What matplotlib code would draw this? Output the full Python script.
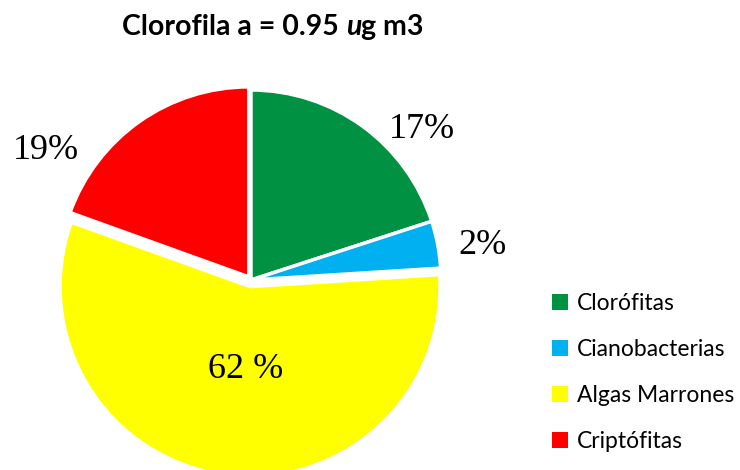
import matplotlib
matplotlib.use("Agg")
import matplotlib.pyplot as plt
from matplotlib.patches import Patch

# data
groups = ["Clorófitas", "Cianobacterias", "Algas Marrones", "Criptófitas"]
shares = [20.0, 4.0, 56.5, 19.5]
share_labels = ["17%", "2%", "62 %", "19%"]
colors = ["#009242", "#00B0F0", "#FFFF00", "#FF0000"]
label_pos = [(0.90, 0.79), (1.22, 0.18), (-0.03, -0.47), (-1.08, 0.68)]

W, H, R = 740, 470, 190  # figure px, pie radius px
cx, cy = 251, 190        # pie centre px (from bottom)

fig = plt.figure(figsize=(W / 100, H / 100), dpi=100)
ax = fig.add_axes([0, 0, 1, 1])

wedges, _ = ax.pie(
    shares, colors=colors, startangle=90, counterclock=False,
    explode=[0, 0, 0.035, 0.02],
    wedgeprops=dict(edgecolor="white", linewidth=2.5),
)
ax.set_aspect("auto")
ax.set_xlim(-cx / R, (W - cx) / R)
ax.set_ylim(-cy / R, (H - cy) / R)
ax.set_axis_off()

for txt, (x, y) in zip(share_labels, label_pos):
    ax.text(x, y, txt, ha="center", va="center", fontsize=26,
            family="Liberation Serif", color="black")

# title with italic "u"
r = fig.canvas.get_renderer()
parts = [("Clorofila a = 0.95 ", "normal"), ("u", "italic"), ("g m3", "normal")]
x0 = 122 / W
for s, st in parts:
    t = fig.text(x0, 1 - 27 / H, s, fontsize=20.5, fontweight="bold", style=st,
                 family="Lato", ha="left", va="center")
    bb = t.get_window_extent(renderer=r)
    x0 += bb.width / W

handles = [Patch(facecolor=c, edgecolor="none") for c in colors]
fig.legend(handles, groups, loc="upper left", bbox_to_anchor=(531 / W, 1 - 272 / H),
           frameon=False, handlelength=0.7, handleheight=0.7,
           handletextpad=0.4, labelspacing=1.1, prop={"family": "Lato", "size": 16.5})

fig.savefig("out.png", dpi=100)
